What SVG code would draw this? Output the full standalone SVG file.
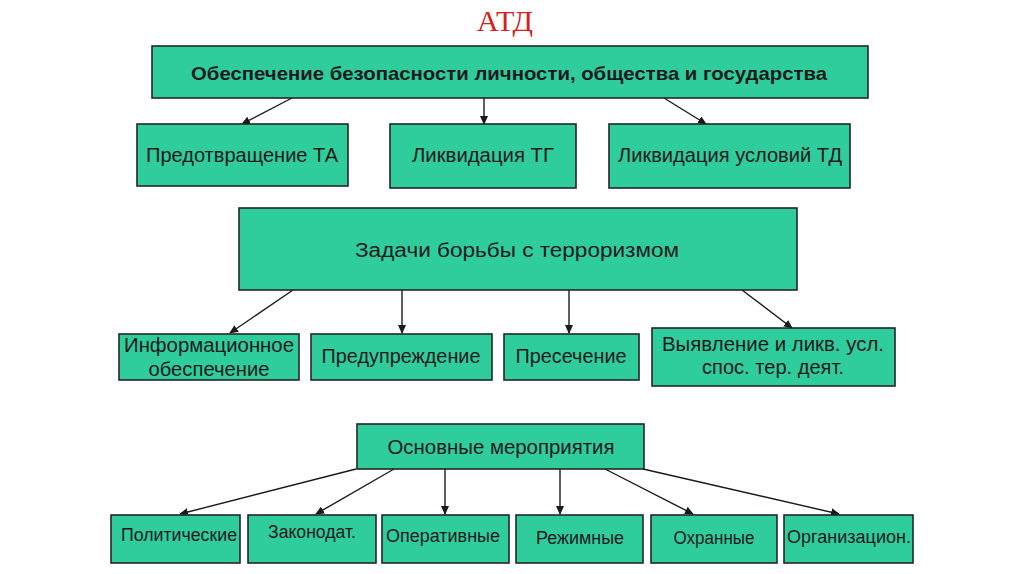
<svg xmlns="http://www.w3.org/2000/svg" width="1024" height="574" viewBox="0 0 1024 574">
<style>
.box{fill:#2fcc9c;stroke:#262626;stroke-width:1.6}
.t{font-family:"Liberation Sans",Arial,sans-serif;font-size:20px;fill:#1a1a1a;text-anchor:middle}
.b{font-weight:bold;font-size:19px}
.s{font-size:18px}
.c line{stroke:#1a1a1a;stroke-width:1.4;marker-end:url(#ah)}
</style>
<defs>
<marker id="ah" markerWidth="9" markerHeight="8" refX="8" refY="4" orient="auto" markerUnits="userSpaceOnUse">
<path d="M0,0 L9,4 L0,8 Z" fill="#1a1a1a"/>
</marker>
</defs>
<rect width="1024" height="574" fill="#ffffff"/>
<text x="505" y="31" font-family="'Liberation Serif','Times New Roman',serif" font-size="30" fill="#d42020" text-anchor="middle">АТД</text>

<g class="c">
<line x1="292" y1="98" x2="242" y2="124"/>
<line x1="484" y1="98" x2="484" y2="124"/>
<line x1="664" y1="98" x2="706" y2="124"/>
<line x1="293" y1="290" x2="230" y2="333"/>
<line x1="402" y1="290" x2="402" y2="333"/>
<line x1="569" y1="290" x2="569" y2="333"/>
<line x1="742" y1="290" x2="792" y2="328"/>
<line x1="356" y1="469" x2="180" y2="514"/>
<line x1="394" y1="469" x2="316" y2="514"/>
<line x1="445" y1="469" x2="445" y2="514"/>
<line x1="560" y1="469" x2="560" y2="514"/>
<line x1="605" y1="469" x2="693" y2="514"/>
<line x1="643" y1="469" x2="839" y2="514"/>
</g>

<g id="n-top"><rect class="box" x="152" y="46" width="716" height="52"/><text class="t b" x="509" y="80" textLength="636" lengthAdjust="spacingAndGlyphs">Обеспечение безопасности личности, общества и государства</text></g>
<g id="n-pta"><rect class="box" x="137" y="124" width="211" height="62"/><text class="t" x="242" y="162" textLength="192" lengthAdjust="spacingAndGlyphs">Предотвращение ТА</text></g>
<g id="n-ltg"><rect class="box" x="390" y="124" width="186" height="64"/><text class="t" x="483" y="162" textLength="142" lengthAdjust="spacingAndGlyphs">Ликвидация ТГ</text></g>
<g id="n-lutd"><rect class="box" x="609" y="124" width="241" height="64"/><text class="t" x="730" y="162" textLength="224" lengthAdjust="spacingAndGlyphs">Ликвидация условий ТД</text></g>

<g id="n-zad"><rect class="box" x="239" y="208" width="558" height="82"/><text class="t" x="517" y="257" textLength="324" lengthAdjust="spacingAndGlyphs">Задачи борьбы с терроризмом</text></g>

<g id="n-info"><rect class="box" x="119" y="334" width="180" height="46"/><text class="t" x="209" y="352" textLength="170" lengthAdjust="spacingAndGlyphs">Информационное</text><text class="t" x="209" y="376" textLength="121" lengthAdjust="spacingAndGlyphs">обеспечение</text></g>
<g id="n-pred"><rect class="box" x="311" y="334" width="181" height="46"/><text class="t" x="401" y="363" textLength="159" lengthAdjust="spacingAndGlyphs">Предупреждение</text></g>
<g id="n-pres"><rect class="box" x="504" y="334" width="135" height="46"/><text class="t" x="571" y="363" textLength="111" lengthAdjust="spacingAndGlyphs">Пресечение</text></g>
<g id="n-vyy"><rect class="box" x="652" y="328" width="243" height="58"/><text class="t" x="773" y="351" textLength="222" lengthAdjust="spacingAndGlyphs">Выявление и ликв. усл.</text><text class="t" x="773" y="374" textLength="142" lengthAdjust="spacingAndGlyphs">спос. тер. деят.</text></g>

<g id="n-osn"><rect class="box" x="357" y="424" width="287" height="45"/><text class="t" x="501" y="454" textLength="227" lengthAdjust="spacingAndGlyphs">Основные мероприятия</text></g>

<g id="n-pol"><rect class="box" x="111" y="515" width="129" height="48"/><text class="t s" x="179" y="541" textLength="116" lengthAdjust="spacingAndGlyphs">Политические</text></g>
<g id="n-zak"><rect class="box" x="248" y="515" width="128" height="48"/><text class="t s" x="312" y="538" textLength="88" lengthAdjust="spacingAndGlyphs">Законодат.</text></g>
<g id="n-oper"><rect class="box" x="382" y="515" width="127" height="48"/><text class="t s" x="443" y="542" textLength="114" lengthAdjust="spacingAndGlyphs">Оперативные</text></g>
<g id="n-rej"><rect class="box" x="516" y="515" width="127" height="48"/><text class="t s" x="580" y="544" textLength="88" lengthAdjust="spacingAndGlyphs">Режимные</text></g>
<g id="n-ohr"><rect class="box" x="651" y="515" width="126" height="48"/><text class="t s" x="714" y="544" textLength="81" lengthAdjust="spacingAndGlyphs">Охранные</text></g>
<g id="n-org"><rect class="box" x="784" y="515" width="129" height="48"/><text class="t s" x="849" y="543" textLength="124" lengthAdjust="spacingAndGlyphs">Организацион.</text></g>
</svg>
